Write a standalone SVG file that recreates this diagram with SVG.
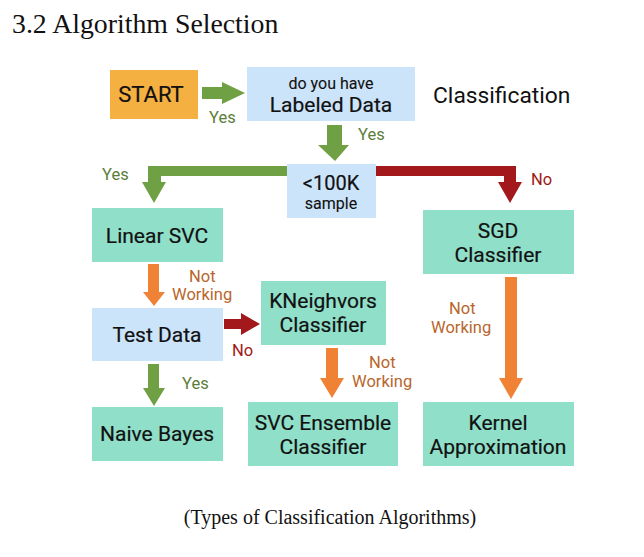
<svg xmlns="http://www.w3.org/2000/svg" width="644" height="557" viewBox="0 0 644 557">
<style>
.t{font-family:Roboto,"Liberation Sans",sans-serif;font-weight:400;fill:#111;stroke:#111;stroke-width:0.2;text-anchor:middle}
.b{font-size:21px}
.s{font-size:16px;stroke-width:0.1}
.lab{font-family:Roboto,"Liberation Sans",sans-serif;font-size:16.5px}
.yes{fill:#5a7d3a}.no{fill:#a01818}.nw{fill:#b8662c}
.blue{fill:#cce4fa}.teal{fill:#90dfc9}.orange{fill:#f5b042}
.ag{fill:#70a044}.ar{fill:#a3191b}.ao{fill:#f08236}
</style>
<rect width="644" height="557" fill="#fff"/>
<text x="12" y="33" font-family="'Liberation Serif',serif" font-size="27.8" fill="#111">3.2 Algorithm Selection</text>
<text x="330" y="524" font-family="'Liberation Serif',serif" font-size="20" fill="#111" text-anchor="middle">(Types of Classification Algorithms)</text>
<text x="433" y="103" font-family="Roboto,'Liberation Sans',sans-serif" font-size="22.8" fill="#111">Classification</text>

<g id="connectors">
<path class="ag" d="M202,87 H222 V82 L245,93 L222,104 V99 H202 Z"/>
<path class="ag" d="M327,125 V145 H318 L335,161 L349,145 H342 V125 Z"/>
<path class="ag" d="M287,166 H148 V182 H142 L154,203 L166,182 H161 V176 H287 Z"/>
<path class="ar" d="M376,166 H516 V182 H522 L510,203 L498,182 H504 V176 H376 Z"/>
<path class="ao" d="M148,264 V292 H143 L154,306 L165,292 H159 V264 Z"/>
<path class="ar" d="M224,319 H241 V313 L260,324 L241,335 V329 H224 Z"/>
<path class="ao" d="M326,348 V378 H320 L332,398 L344,378 H338 V348 Z"/>
<path class="ag" d="M148,364 V388 H143 L154,406 L165,388 H159 V364 Z"/>
<path class="ao" d="M505,277 V378 H499 L511,399 L523,378 H517 V277 Z"/>
<text class="lab yes" x="209" y="123">Yes</text>
<text class="lab yes" x="358" y="140">Yes</text>
<text class="lab yes" x="102" y="180">Yes</text>
<text class="lab no" x="531" y="185">No</text>
<text class="lab nw" x="189" y="282">Not</text>
<text class="lab nw" x="172" y="300">Working</text>
<text class="lab no" x="232" y="356">No</text>
<text class="lab nw" x="369" y="368">Not</text>
<text class="lab nw" x="352" y="387">Working</text>
<text class="lab yes" x="182" y="389">Yes</text>
<text class="lab nw" x="449" y="314">Not</text>
<text class="lab nw" x="431" y="333">Working</text>
</g>

<g id="start"><rect class="orange" x="110" y="70" width="88" height="49"/><text class="t" x="151" y="102" font-size="22">START</text></g>
<g id="labeled"><rect class="blue" x="247" y="67" width="168" height="54"/><text class="t s" x="331" y="89">do you have</text><text class="t b" x="331" y="112">Labeled Data</text></g>
<g id="sample"><rect class="blue" x="287" y="164" width="89" height="54"/><text class="t" x="331" y="190" font-size="20">&lt;100K</text><text class="t s" x="331" y="209">sample</text></g>
<g id="linearsvc"><rect class="teal" x="92" y="208" width="131" height="54"/><text class="t b" x="157" y="243">Linear SVC</text></g>
<g id="sgd"><rect class="teal" x="423" y="210" width="151" height="64"/><text class="t b" x="498" y="238">SGD</text><text class="t b" x="498" y="262">Classifier</text></g>
<g id="testdata"><rect class="blue" x="92" y="308" width="131" height="53"/><text class="t b" x="157" y="342">Test Data</text></g>
<g id="kneighbors"><rect class="teal" x="261" y="281" width="125" height="64"/><text class="t b" x="323" y="308">KNeighvors</text><text class="t b" x="323" y="332">Classifier</text></g>
<g id="naivebayes"><rect class="teal" x="92" y="407" width="131" height="54"/><text class="t b" x="157" y="441">Naive Bayes</text></g>
<g id="svcensemble"><rect class="teal" x="248" y="402" width="150" height="64"/><text class="t b" x="323" y="430">SVC Ensemble</text><text class="t b" x="323" y="454">Classifier</text></g>
<g id="kernel"><rect class="teal" x="423" y="402" width="151" height="64"/><text class="t b" x="498" y="430">Kernel</text><text class="t b" x="498" y="454">Approximation</text></g>
</svg>
